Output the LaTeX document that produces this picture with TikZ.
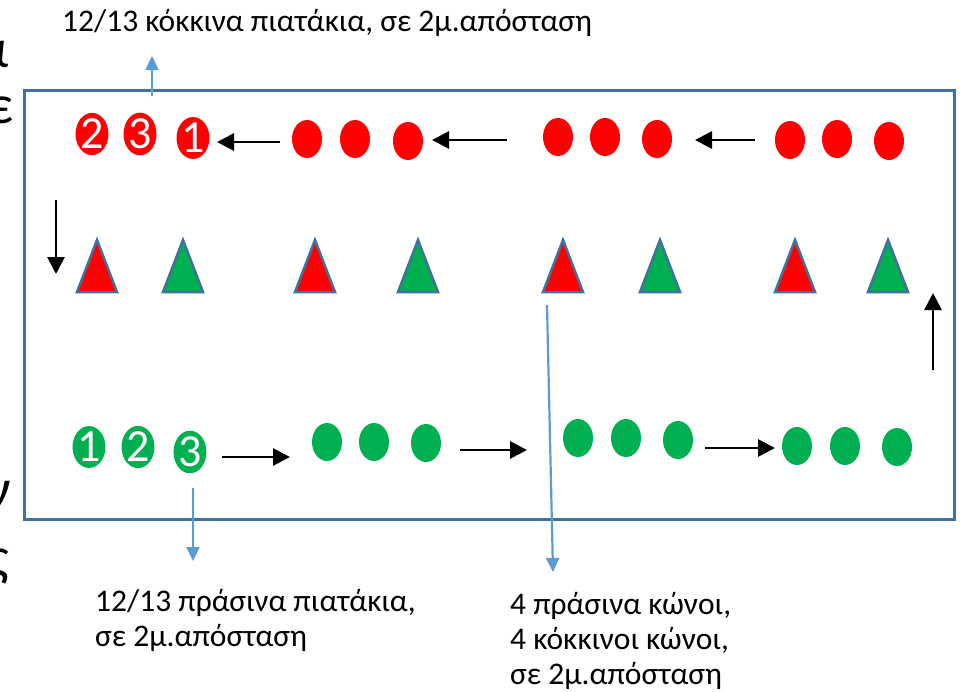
\documentclass[tikz,border=0pt]{standalone}
\usepackage{fontspec}
\setmainfont{Carlito}
\usetikzlibrary{shapes.geometric,arrows.meta}
\definecolor{myred}{HTML}{FF0000}
\definecolor{mygreen}{HTML}{00B050}
\definecolor{frame}{HTML}{41719C}
\definecolor{lblue}{HTML}{5B9BD5}
\begin{document}
\begin{tikzpicture}[x=1pt,y=-1pt,
 disc/.style={ellipse, minimum width=30pt, minimum height=38pt, inner sep=0pt, text=white, font=\fontsize{46}{46}\selectfont},
 rdisc/.style={disc, fill=myred},
 gdisc/.style={disc, fill=mygreen},
 blk/.style={line width=2.8pt, -{Triangle[length=17pt,width=17pt]}},
 callout/.style={draw=lblue, line width=2.2pt, -{Triangle[length=14pt,width=13pt]}},
 lbl/.style={font=\fontsize{31.5}{35}\selectfont, inner sep=0pt, anchor=base west, align=left},
 frag/.style={font=\fontsize{55}{55}\selectfont, inner sep=0pt, anchor=base east},
 cone/.style={draw=frame, line width=2.5pt, line join=miter}
]
\useasboundingbox (0,0) rectangle (966,691);
% cut-off letters at the left edge
\node[frag] (fa) at (9,67) {α};
\node[frag] (fe) at (14,123) {ε};
\node[frag] (fn) at (11,507) {ν};
\node[frag] (fs) at (9,575) {ς};
% frame
\draw[frame, line width=3pt] (24,90) rectangle (954,519);
% red row
\node[rdisc] (r1) at (92,134) {2};
\node[rdisc] (r2) at (140,134) {3};
\node[rdisc] (r3) at (193,138) {1};
\node[rdisc] (r4) at (307,139) {};
\node[rdisc] (r5) at (355,139) {};
\node[rdisc] (r6) at (408,141) {};
\node[rdisc] (r7) at (558,137) {};
\node[rdisc] (r8) at (605,137) {};
\node[rdisc] (r9) at (657,139) {};
\node[rdisc] (r10) at (790,140) {};
\node[rdisc] (r11) at (837,139) {};
\node[rdisc] (r12) at (889,141) {};
% green row
\node[gdisc] (g1) at (89,447) {1};
\node[gdisc] (g2) at (138,447) {2};
\node[gdisc] (g3) at (190,452) {3};
\node[gdisc] (g4) at (327,442) {};
\node[gdisc] (g5) at (374,442) {};
\node[gdisc] (g6) at (426,443) {};
\node[gdisc] (g7) at (578,438) {};
\node[gdisc] (g8) at (626,438) {};
\node[gdisc] (g9) at (678,440) {};
\node[gdisc] (g10) at (797,446) {};
\node[gdisc] (g11) at (845,446) {};
\node[gdisc] (g12) at (897,447) {};
% cones
\foreach \x/\c/\n in {97/myred/c1,183/mygreen/c2,315/myred/c3,418/mygreen/c4,563/myred/c5,660/mygreen/c6,795/myred/c7,888/mygreen/c8}{
  \filldraw[cone, fill=\c] ({\x-20},292) -- (\x,240) -- ({\x+20},292) -- cycle;
  \coordinate (\n) at (\x,292);
}
% black arrows
\coordinate (a1) at (280,142); \coordinate (b1) at (217,142);
\coordinate (a2) at (507,140); \coordinate (b2) at (432,140);
\coordinate (a3) at (755,140); \coordinate (b3) at (695,140);
\draw[blk] (a1) -- (b1);
\draw[blk] (a2) -- (b2);
\draw[blk] (a3) -- (b3);
\coordinate (a4) at (222,457); \coordinate (b4) at (290,457);
\coordinate (a5) at (460,450); \coordinate (b5) at (527,450);
\coordinate (a6) at (705,448); \coordinate (b6) at (775,448);
\draw[blk] (a4) -- (b4);
\draw[blk] (a5) -- (b5);
\draw[blk] (a6) -- (b6);
\coordinate (d1) at (56,200); \coordinate (d2) at (56,274);
\draw[blk] (d1) -- (d2);
\coordinate (u1) at (933,370); \coordinate (u2) at (933,293);
\draw[blk] (u1) -- (u2);
% labels
\node[lbl] (t1) at (62,31) {12/13 κόκκινα πιατάκια, σε 2μ.απόσταση};
\node[lbl] (t2) at (95,646) {12/13 πράσινα πιατάκια,\\σε 2μ.απόσταση};
\node[lbl] (t3) at (510,684) {4 πράσινα κώνοι,\\4 κόκκινοι κώνοι,\\σε 2μ.απόσταση};
% callout arrows
\coordinate (s1) at (152,96); \coordinate (e1) at (152,56);
\draw[callout] (s1) -- (e1);
\coordinate (s2) at (193,488); \coordinate (e2) at (193,561);
\draw[callout] (s2) -- (e2);
\coordinate (s3) at (547,305); \coordinate (e3) at (553,572);
\draw[callout] (s3) -- (e3);
\end{tikzpicture}
\end{document}
